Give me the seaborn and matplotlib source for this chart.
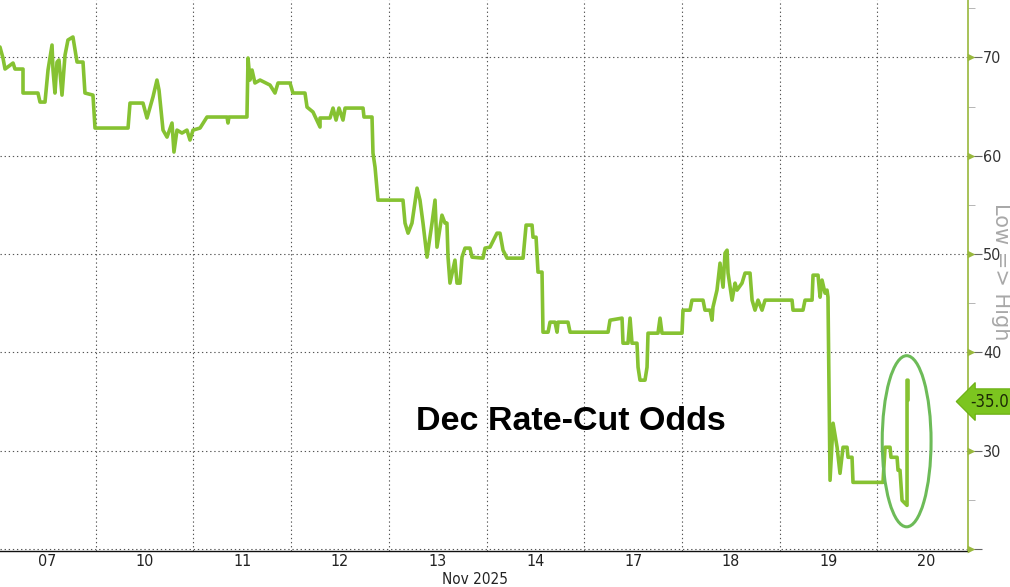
import numpy as np
import pandas as pd
import seaborn as sns
import matplotlib
matplotlib.use("Agg")
import matplotlib.pyplot as plt
from matplotlib.patches import Ellipse
import matplotlib.transforms as mtransforms
from matplotlib import font_manager

# ---- data -------------------------------------------------------------
day_labels = ["07", "10", "11", "12", "13", "14", "17", "18", "19", "20"]

# time in trading-day units (0 = start of Nov 07 session), value = odds (%)
t_day07 = [0.020, 0.051, 0.072, 0.154, 0.174, 0.256, 0.256, 0.409, 0.430, 0.481,
           0.512, 0.553, 0.563, 0.583, 0.604, 0.624, 0.655, 0.686, 0.716, 0.767,
           0.809, 0.870, 0.890, 0.972, 0.993]
v_day07 = [71.05, 69.93, 68.81, 69.42, 68.81, 68.81, 66.37, 66.37, 65.45, 65.45,
           68.71, 71.25, 68.71, 66.37, 69.52, 69.73, 66.16, 70.23, 71.76, 72.07,
           69.52, 69.52, 66.37, 66.16, 62.81]

t_day10 = [1.331, 1.351, 1.484, 1.525, 1.586, 1.627, 1.648, 1.689, 1.730, 1.781,
           1.801, 1.832, 1.883, 1.934, 1.965, 1.996, 2.068]
v_day10 = [62.81, 65.35, 65.35, 63.83, 65.96, 67.69, 66.67, 62.60, 61.89, 63.32,
           60.37, 62.60, 62.30, 62.60, 61.59, 62.60, 62.81]

t_day11 = [2.139, 2.344, 2.354, 2.364, 2.548, 2.559, 2.579, 2.600, 2.630, 2.682,
           2.784, 2.835, 2.866, 2.989, 3.019]
v_day11 = [63.93, 63.93, 63.32, 63.93, 63.93, 69.93, 67.69, 68.71, 67.39, 67.69,
           67.18, 66.37, 67.39, 67.39, 66.37]

t_day12 = [3.142, 3.163, 3.224, 3.296, 3.296, 3.398, 3.429, 3.460, 3.490, 3.531,
           3.552, 3.736, 3.746, 3.828, 3.838, 3.859, 3.889]
v_day12 = [66.37, 64.94, 64.44, 62.91, 63.83, 63.83, 64.84, 63.62, 64.84, 63.62,
           64.84, 64.84, 63.93, 63.93, 60.26, 58.84, 55.48]

t_day13 = [4.145, 4.166, 4.197, 4.237, 4.289, 4.319, 4.350, 4.391, 4.442, 4.473,
           4.493, 4.544, 4.575, 4.595, 4.606, 4.626, 4.677, 4.698, 4.729, 4.749,
           4.780, 4.831, 4.852, 4.964, 4.985]
v_day13 = [55.48, 53.14, 52.12, 53.14, 56.70, 55.48, 53.14, 49.68, 53.14, 55.48,
           50.70, 53.95, 53.14, 53.14, 49.68, 47.04, 49.38, 47.04, 47.04, 49.68,
           50.60, 50.60, 49.68, 49.58, 50.60]

t_day14 = [5.036, 5.107, 5.138, 5.169, 5.210, 5.374, 5.405, 5.466, 5.476, 5.507,
           5.527, 5.568, 5.578, 5.630, 5.650, 5.701, 5.722, 5.732, 5.834, 5.855]
v_day14 = [50.70, 52.12, 52.12, 50.39, 49.58, 49.58, 52.94, 52.94, 51.71, 51.71,
           48.16, 48.16, 42.05, 42.05, 43.07, 43.07, 42.05, 43.07, 43.07, 42.05]

t_day17 = [6.244, 6.264, 6.387, 6.397, 6.448, 6.469, 6.489, 6.540, 6.551, 6.571,
           6.622, 6.643, 6.653, 6.755, 6.776, 6.796]
v_day17 = [42.05, 43.27, 43.48, 40.93, 40.93, 43.48, 40.93, 40.93, 38.49, 37.17,
           37.17, 38.49, 41.95, 41.95, 43.48, 41.95]

t_day18 = [7.001, 7.011, 7.083, 7.103, 7.216, 7.236, 7.288, 7.308, 7.318, 7.359,
           7.390, 7.421, 7.441, 7.462, 7.472, 7.513, 7.544, 7.564, 7.615, 7.646,
           7.697, 7.718, 7.748, 7.779, 7.820, 7.851]
v_day18 = [41.95, 44.29, 44.29, 45.31, 45.31, 44.29, 44.29, 43.27, 44.60, 46.33,
           49.07, 46.63, 50.09, 50.39, 48.06, 45.31, 47.04, 46.33, 47.04, 48.06,
           48.06, 45.31, 44.29, 45.31, 44.29, 45.31]

t_day19 = [8.127, 8.137, 8.239, 8.260, 8.332, 8.342, 8.393, 8.414, 8.434, 8.465,
           8.485, 8.495, 8.516, 8.547, 8.588, 8.618, 8.649, 8.690, 8.700, 8.741,
           8.751]
v_day19 = [45.31, 44.29, 44.29, 45.31, 45.31, 47.85, 47.85, 45.61, 47.35, 46.02,
           46.33, 45.61, 26.99, 32.79, 30.35, 27.70, 30.35, 30.35, 29.33, 29.33,
           26.78]

t_day20 = [9.058, 9.079, 9.130, 9.140, 9.202, 9.212, 9.232, 9.253, 9.304, 9.304,
           9.314, 9.314]
v_day20 = [26.78, 30.35, 30.35, 29.33, 29.33, 28.01, 28.01, 24.95, 24.44, 37.17,
           37.17, 35.13]

last_value = 35.0
y_ticks = [20, 30, 40, 50, 60, 70]
y_tick_labels = ["", "30", "40", "50", "60", "70"]
title_text = "Dec Rate-Cut Odds"
axis_title = "Low => High"
month_label = "Nov 2025"

# ---- build frame --------------------------------------------------------
t_all = (t_day07 + t_day10 + t_day11 + t_day12 + t_day13 + t_day14 +
         t_day17 + t_day18 + t_day19 + t_day20)
v_all = (v_day07 + v_day10 + v_day11 + v_day12 + v_day13 + v_day14 +
         v_day17 + v_day18 + v_day19 + v_day20)
df = pd.DataFrame({"t": t_all, "odds": v_all})

# ---- styling --------------------------------------------------------------
sns.set_theme(style="white")
plt.rcParams["font.family"] = ["DejaVu Sans"]

# condensed face for axis labels (Bloomberg-like)
avail = {f.name for f in font_manager.fontManager.ttflist}
if "Liberation Sans Narrow" in avail:
    NARROW = dict(family=["Liberation Sans Narrow", "DejaVu Sans"])
else:
    NARROW = dict(family=["DejaVu Sans"], stretch="condensed")

LINE = "#86c232"
AXIS_GREEN = "#98b83c"

fig = plt.figure(figsize=(10.10, 5.87), dpi=100)
W, H = 1010, 587
ax = fig.add_axes([0, 1 - 551 / H, 968 / W, 551 / H])

sns.lineplot(data=df, x="t", y="odds", sort=False, estimator=None,
             color=LINE, linewidth=2.6, ax=ax)

ax.set_xlim(0.0205, 9.928)
ax.set_ylim(19.8, 75.83)

# x axis: labels centred on each day, grid at day boundaries
ax.set_xticks([i + 0.5 for i in range(len(day_labels))])
ax.set_xticklabels(day_labels, fontsize=11.5, color="#222222", **NARROW)
ax.set_xticks(list(range(1, len(day_labels))), minor=True)
ax.tick_params(axis="x", which="both", length=0, pad=2)
ax.grid(False)
ax.grid(axis="x", which="minor", color="#555555", linestyle=(0, (1.2, 2.5)),
        linewidth=0.8)
ax.grid(axis="y", which="major", color="#555555", linestyle=(0, (1.2, 2.5)),
        linewidth=0.8)

# y axis on the right
ax.yaxis.tick_right()
ax.set_yticks(y_ticks)
ax.set_yticklabels(y_tick_labels, fontsize=11.5, color="#333333", **NARROW)
ax.set_yticks([25, 35, 45, 55, 65, 75], minor=True)
ax.tick_params(axis="y", which="major", direction="out", length=10,
               width=0.8, color="#666666", pad=1)
ax.tick_params(axis="y", which="minor", direction="out", length=5,
               width=0.6, color="#aaaaaa")
ax.set_xlabel("")
ax.set_ylabel("")

for s in ["left", "top"]:
    ax.spines[s].set_visible(False)
ax.spines["bottom"].set_color("#111111")
ax.spines["bottom"].set_linewidth(1.0)
ax.spines["right"].set_color(AXIS_GREEN)
ax.spines["right"].set_linewidth(1.2)

# green triangle markers on the right axis
trans = mtransforms.blended_transform_factory(ax.transAxes, ax.transData)
ax.scatter([1.0035] * len(y_ticks), y_ticks, marker=">", s=30, color=AXIS_GREEN,
           transform=trans, clip_on=False, zorder=5, linewidths=0)

# axis title on right
ax.text(1.0345, 48.2, axis_title, transform=trans, rotation=270, ha="center",
        va="center", fontsize=15, color="#a8a8a8", family=["DejaVu Sans"])

# last value tag
ax.text(1.002, last_value, "-" + f"{last_value:.1f}", transform=trans,
        ha="left", va="center", fontsize=12, color="#1c2a05",
        bbox=dict(boxstyle="larrow,pad=0.22", fc="#7cc51f", ec="#6aae12", lw=0.8),
        clip_on=False, zorder=6, **NARROW)

# annotation ellipse around latest move
ax.add_patch(Ellipse((9.30, 30.96), 0.50, 17.4, fill=False,
                     edgecolor="#6dbb58", linewidth=2.2, zorder=4))

# title in plot
ax.text(5.86, 33.0, title_text, ha="center", va="center", fontsize=24.5,
        fontweight="bold", color="black", family=["Liberation Sans", "DejaVu Sans"])

fig.text(475 / W, 1 - 579.5 / H, month_label, ha="center", va="center",
         fontsize=11, color="#222222", **NARROW)

fig.savefig("out.png", dpi=100)
